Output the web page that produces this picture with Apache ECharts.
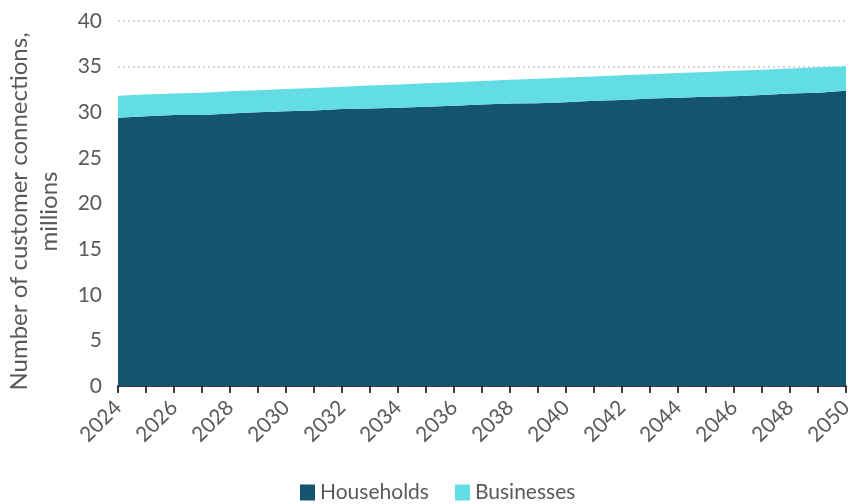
<!DOCTYPE html>
<html>
<head>
<meta charset="utf-8">
<script src="https://cdn.jsdelivr.net/npm/echarts@6/dist/echarts.min.js"></script>
<style>
  html, body { margin: 0; padding: 0; background: #ffffff; }
  #chart { width: 850px; height: 504px; }
</style>
</head>
<body>
<div id="chart"></div>
<script>
// Years on the horizontal axis
const years = ['2024','2025','2026','2027','2028','2029','2030','2031','2032','2033','2034','2035','2036','2037',
  '2038','2039','2040','2041','2042','2043','2044','2045','2046','2047','2048','2049','2050'];

// Customer connections, millions (stacked)
const households = [29.4, 29.55, 29.7, 29.7, 29.85, 30.0, 30.1, 30.2, 30.35, 30.4, 30.5, 30.6, 30.7, 30.85,
  30.95, 31.0, 31.1, 31.25, 31.35, 31.5, 31.6, 31.7, 31.75, 31.9, 32.05, 32.15, 32.35];
const businesses = [2.4, 2.4, 2.35, 2.45, 2.45, 2.42, 2.45, 2.47, 2.45, 2.52, 2.55, 2.57, 2.6, 2.57,
  2.6, 2.67, 2.7, 2.67, 2.7, 2.67, 2.7, 2.72, 2.8, 2.77, 2.75, 2.77, 2.7];

const yTicks = { min: 0, max: 40, interval: 5 };

const FONT = 'Lato';
const GREY = '#595959';

const chart = echarts.init(document.getElementById('chart'), null, { renderer: 'canvas' });
chart.setOption({
  animation: false,
  backgroundColor: '#ffffff',
  grid: { left: 118, right: 4, top: 21, bottom: 118, containLabel: false, outerBoundsMode: 'none' },
  legend: {
    top: 477,
    left: 295,
    itemWidth: 15,
    itemHeight: 16,
    itemGap: 26,
    icon: 'rect',
    textStyle: { fontFamily: FONT, fontSize: 21, color: GREY },
    data: ['Households', 'Businesses']
  },
  xAxis: {
    type: 'category',
    data: years,
    boundaryGap: false,
    axisLine: { show: true, lineStyle: { color: '#000000', width: 1.5 } },
    axisTick: { show: true, interval: 0, length: 7, lineStyle: { color: '#000000', width: 1.5 } },
    axisLabel: {
      interval: 1,
      rotate: 45,
      margin: 18,
      fontFamily: FONT,
      fontSize: 21,
      color: GREY
    },
    splitLine: { show: false }
  },
  yAxis: {
    type: 'value',
    min: yTicks.min,
    max: yTicks.max,
    interval: yTicks.interval,
    name: 'Number of customer connections,\nmillions',
    nameLocation: 'middle',
    nameGap: 54,
    nameRotate: 90,
    nameTextStyle: { fontFamily: FONT, fontSize: 24, color: GREY, lineHeight: 30, align: 'center', padding: [0, 16, 0, 0] },
    axisLine: { show: false },
    axisTick: { show: false },
    axisLabel: { fontFamily: FONT, fontSize: 21, color: GREY, margin: 16 },
    splitLine: { show: true, lineStyle: { color: '#c8c8c8', type: [2, 3], width: 1.5 } }
  },
  series: [
    {
      name: 'Households',
      type: 'line',
      stack: 'total',
      data: households,
      symbol: 'none',
      lineStyle: { width: 0 },
      itemStyle: { color: '#15546e' },
      areaStyle: { color: '#15546e', opacity: 1 }
    },
    {
      name: 'Businesses',
      type: 'line',
      stack: 'total',
      data: businesses,
      symbol: 'none',
      lineStyle: { width: 0 },
      itemStyle: { color: '#62dde4' },
      areaStyle: { color: '#62dde4', opacity: 1 }
    }
  ]
});
</script>
</body>
</html>
